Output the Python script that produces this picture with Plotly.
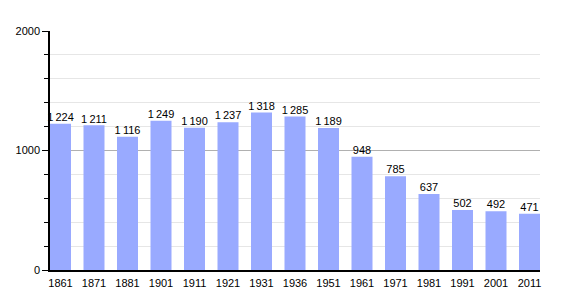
import plotly.graph_objects as go

years = ["1861", "1871", "1881", "1901", "1911", "1921", "1931", "1936",
         "1951", "1961", "1971", "1981", "1991", "2001", "2011"]
population = [1224, 1211, 1116, 1249, 1190, 1237, 1318, 1285,
              1189, 948, 785, 637, 502, 492, 471]

def fmt(v):
    s = f"{v:,}"
    return s.replace(",", "\u2009")

labels = [fmt(v) for v in population]

fig = go.Figure()
fig.add_trace(go.Bar(
    x=years, y=population,
    marker=dict(color="#99aaff", line=dict(width=0)),
    width=0.627, hoverinfo="skip",
))
fig.add_trace(go.Scatter(
    x=years, y=population, text=labels, mode="text",
    textposition="top center",
    textfont=dict(size=11, color="black", family="Liberation Sans, Arial"),
    cliponaxis=False, hoverinfo="skip",
))

fig.update_layout(
    width=570, height=300,
    margin=dict(l=50, r=30, t=31, b=30),
    plot_bgcolor="white", paper_bgcolor="white",
    font=dict(family="Liberation Sans, Arial", size=11, color="black"),
    showlegend=False,
)
fig.update_xaxes(
    type="category", range=[-0.3135, 14.3135],
    showline=True, linecolor="black", linewidth=1.5,
    ticks="", showgrid=False, tickfont=dict(size=11),
    ticklabelstandoff=2,
)
fig.update_yaxes(
    range=[0, 2000], dtick=1000, tick0=0,
    showline=True, linecolor="black", linewidth=1.5,
    ticks="outside", ticklen=6, tickcolor="black",
    showgrid=True, gridcolor="#b0b0b0", gridwidth=1,
    zeroline=False, tickfont=dict(size=11),
    minor=dict(dtick=200, ticks="outside", ticklen=4, tickcolor="black",
               showgrid=True, gridcolor="#e6e6e6", gridwidth=1),
)

fig.write_html("out.html")
